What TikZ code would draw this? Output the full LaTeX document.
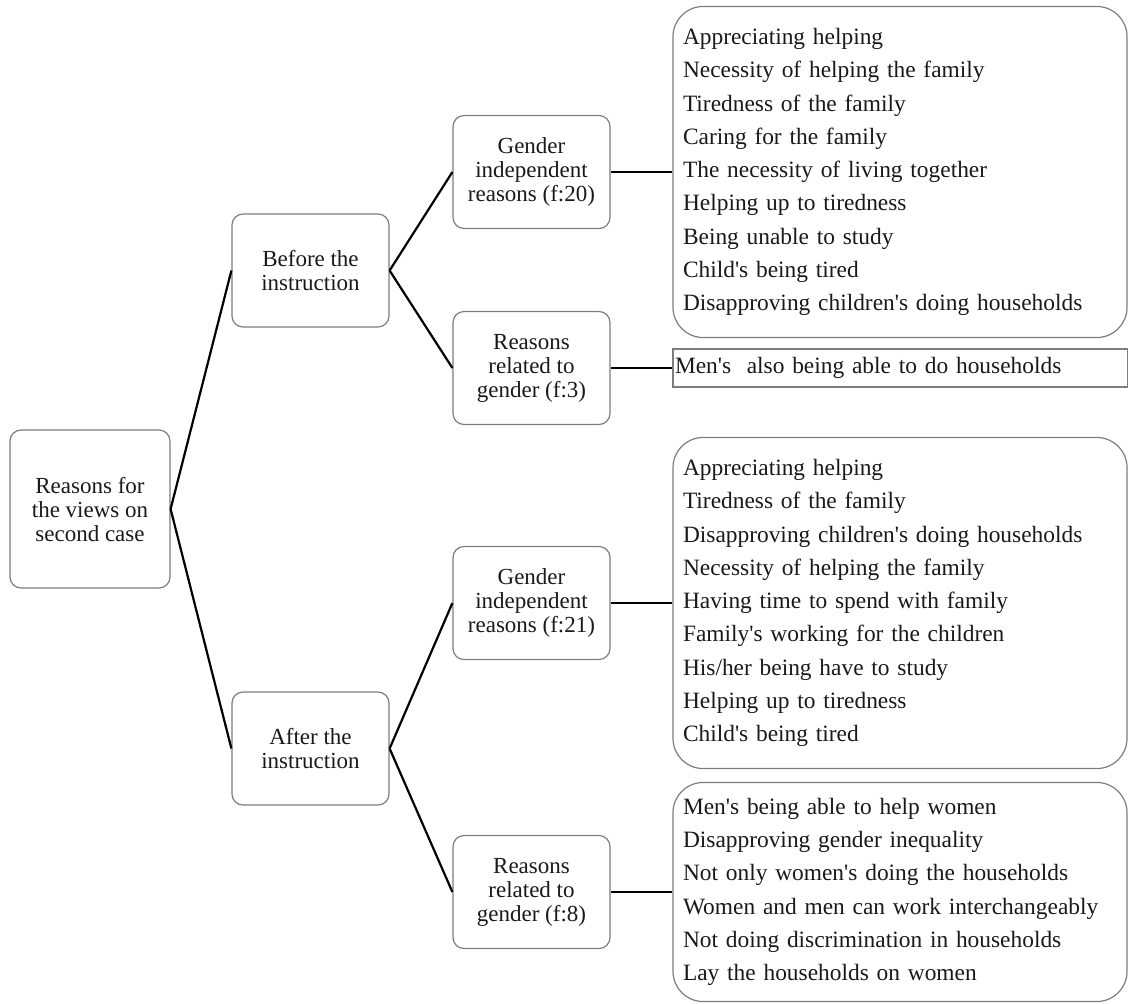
\documentclass[tikz,border=0pt]{standalone}
\usepackage{fontspec}
% plain straight apostrophes in the lists
\defaultfontfeatures[\rmfamily]{}
\setmainfont{Liberation Serif}
\definecolor{boxgray}{RGB}{125,125,125}
\definecolor{inkgray}{RGB}{25,25,25}
\begin{document}
\begin{tikzpicture}[x=0.5pt,y=-0.5pt,
  box/.style={draw=boxgray, line width=0.6pt, rounded corners=5.5pt,
    align=center, inner sep=0pt, text=inkgray,
    minimum width=78.5pt, minimum height=56.5pt,
    font=\fontsize{11.5pt}{12pt}\selectfont},
  listbox/.style={draw=boxgray, line width=0.6pt, rounded corners=15pt,
    align=left, inner xsep=5pt, inner ysep=0pt, text width=217pt, text=inkgray,
    font=\fontsize{11.7pt}{16.65pt}\selectfont},
  flatbox/.style={draw=boxgray, line width=0.6pt,
    align=left, inner xsep=1pt, inner ysep=0pt, text width=225.5pt, text=inkgray,
    minimum height=19pt, font=\fontsize{11.7pt}{14pt}\selectfont},
  conn/.style={line width=1.1pt, black}
]
\useasboundingbox (0,0) rectangle (1128,1003);

% root and the two periods
\node[box, minimum width=80pt, minimum height=79pt] (root) at (90,509)
  {Reasons for\\the views on\\second case};
\node[box] (before) at (310.5,270.5) {Before the\\instruction};
\node[box] (after)  at (310.5,748.5) {After the\\instruction};

% reason groups
\node[box] (gi20) at (531.5,172) {Gender\\independent\\reasons (f:20)};
\node[box] (rg3)  at (531.5,368) {Reasons\\related to\\gender (f:3)};
\node[box] (gi21) at (531.5,603) {Gender\\independent\\reasons (f:21)};
\node[box] (rg8)  at (531.5,892) {Reasons\\related to\\gender (f:8)};

% lists of reasons
\node[listbox, minimum height=165.5pt] (list1) at (900,172)
  {Appreciating helping\\
   Necessity of helping the family\\
   Tiredness of the family\\
   Caring for the family\\
   The necessity of living together\\
   Helping up to tiredness\\
   Being unable to study\\
   Child's being tired\\
   Disapproving children's doing households};
\node[flatbox] (list2) at (900.5,368)
  {Men's\ \ also being able to do households};
\node[listbox, minimum height=165.5pt] (list3) at (900,603)
  {Appreciating helping\\
   Tiredness of the family\\
   Disapproving children's doing households\\
   Necessity of helping the family\\
   Having time to spend with family\\
   Family's working for the children\\
   His/her being have to study\\
   Helping up to tiredness\\
   Child's being tired};
\node[listbox, minimum height=109.5pt] (list4) at (900,892)
  {Men's being able to help women\\
   Disapproving gender inequality\\
   Not only women's doing the households\\
   Women and men can work interchangeably\\
   Not doing discrimination in households\\
   Lay the households on women};

% connectors
\draw[conn] (root.east) -- (before.west);
\draw[conn] (root.east) -- (after.west);
\draw[conn] (before.east) -- (gi20.west);
\draw[conn] (before.east) -- (rg3.west);
\draw[conn] (after.east) -- (gi21.west);
\draw[conn] (after.east) -- (rg8.west);
\draw[conn] (gi20.east) -- (list1.west);
\draw[conn] (rg3.east) -- (list2.west);
\draw[conn] (gi21.east) -- (list3.west);
\draw[conn] (rg8.east) -- (list4.west);
\end{tikzpicture}
\end{document}
